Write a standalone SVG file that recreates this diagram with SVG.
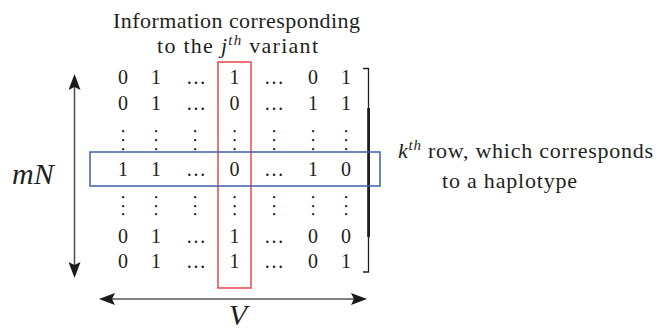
<svg xmlns="http://www.w3.org/2000/svg" width="665" height="330" viewBox="0 0 665 330">
<defs>
<marker id="ah" viewBox="0 0 16 12" refX="13" refY="6" markerWidth="16" markerHeight="12" markerUnits="userSpaceOnUse" orient="auto-start-reverse">
<path d="M0,0 L16,6 L0,12 L3,6 Z" fill="#1a1a1a"/>
</marker>
</defs>
<style>
text{font-family:"Liberation Serif","DejaVu Serif","Times New Roman",serif;fill:#231f20}
.m{font-size:20px;text-anchor:middle}
.d{font-size:7.5px;font-weight:bold;text-anchor:middle;fill:#111}
.lbl{font-size:22px}
.it{font-style:italic}
.sup{font-size:15px;font-style:italic}
.big{font-style:italic;font-size:30px}
.axis{stroke:#555;stroke-width:1.6;fill:none}
</style>
<g id="caption-top">
<text class="lbl" x="113" y="28" textLength="247" lengthAdjust="spacing">Information corresponding</text>
<text class="lbl" x="157" y="53" textLength="161" lengthAdjust="spacing">to the <tspan class="it">j</tspan><tspan class="sup" dy="-8">th</tspan><tspan dy="8"> variant</tspan></text>
</g>
<g id="matrix">
<text class="m"><tspan x="123 156 196 234.5 274 313 346" y="84">01…1…01</tspan></text>
<text class="m"><tspan x="123 156 196 234.5 274 313 346" y="110">01…0…11</tspan></text>
<text class="d"><tspan x="123 156 195 234.5 274 313 346" y="133.5">•••••••</tspan></text>
<text class="d"><tspan x="123 156 195 234.5 274 313 346" y="142.5">•••••••</tspan></text>
<text class="d"><tspan x="123 156 195 234.5 274 313 346" y="151.5">•••••••</tspan></text>
<text class="m"><tspan x="123 156 196 234.5 274 313 346" y="176">11…0…10</tspan></text>
<text class="d"><tspan x="123 156 195 234.5 274 313 346" y="199.5">•••••••</tspan></text>
<text class="d"><tspan x="123 156 195 234.5 274 313 346" y="208.5">•••••••</tspan></text>
<text class="d"><tspan x="123 156 195 234.5 274 313 346" y="217">•••••••</tspan></text>
<text class="m"><tspan x="123 156 196 234.5 274 313 346" y="243">01…1…00</tspan></text>
<text class="m"><tspan x="123 156 196 234.5 274 313 346" y="268">01…1…01</tspan></text>
</g>
<g id="bracket">
<path d="M363,68.5 H368.5 V272 H363" fill="none" stroke="#231f20" stroke-width="1.3"/>
<rect x="367.2" y="108" width="2.8" height="129" fill="#231f20"/>
</g>
<g id="column-j">
<rect x="218" y="62" width="33" height="226" fill="none" stroke="#e8474c" stroke-width="1.5"/>
</g>
<g id="row-k">
<rect x="90" y="152" width="290" height="34" fill="none" stroke="#3f5fa8" stroke-width="1.5"/>
</g>
<g id="caption-right">
<text class="lbl" x="398" y="158" textLength="255" lengthAdjust="spacing"><tspan class="it">k</tspan><tspan class="sup" dy="-8">th</tspan><tspan dy="8"> row, which corresponds</tspan></text>
<text class="lbl" x="442" y="188" textLength="135" lengthAdjust="spacing">to a haplotype</text>
</g>
<g id="connectors">
<line class="axis" x1="74.5" y1="77" x2="74.5" y2="275" marker-start="url(#ah)" marker-end="url(#ah)"/>
<line class="axis" x1="102" y1="299" x2="364" y2="299" marker-start="url(#ah)" marker-end="url(#ah)"/>
</g>
<g id="axis-labels">
<text class="big" x="12" y="184">mN</text>
<text class="big" x="238" y="325" text-anchor="middle">V</text>
</g>
</svg>
